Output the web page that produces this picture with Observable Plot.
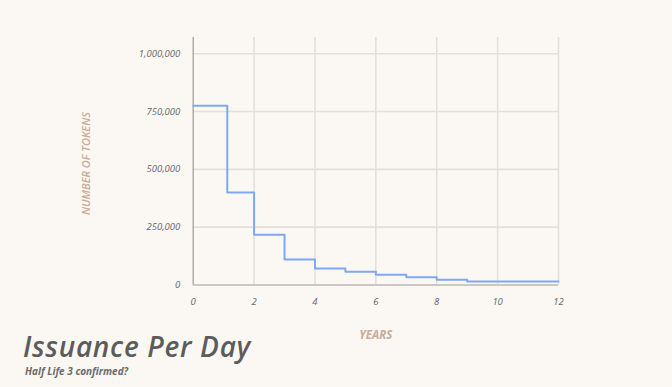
<!DOCTYPE html>
<html>
<head>
<meta charset="utf-8">
<script src="https://cdn.jsdelivr.net/npm/d3@7"></script>
<script src="https://cdn.jsdelivr.net/npm/@observablehq/plot@0.6"></script>
<style>
  html, body { margin: 0; padding: 0; background: #fbf8f3; }
  #wrap { width: 672px; height: 387px; overflow: hidden; background: #fbf8f3; }
  #title { font-family: "Open Sans", Lato, sans-serif; font-style: italic; font-weight: 600; font-size: 28px; color: #5c5c5c; margin: -12px 0 0 23px; line-height: 32px; letter-spacing: 0.7px; white-space: nowrap; }
  #subtitle { font-family: "Open Sans", Lato, sans-serif; font-style: italic; font-weight: 700; font-size: 10px; color: #6a6a6a; margin: 3px 0 0 25px; line-height: 12px; white-space: nowrap; }
</style>
</head>
<body>
<div id="wrap">
  <div id="chart"></div>
  <div id="title">Issuance Per Day</div>
  <div id="subtitle">Half Life 3 confirmed?</div>
</div>
<script>
// Step breakpoints (years) and issuance per day (tokens) for each step
const years = [0, 1.12, 2, 3, 4, 5, 6, 7, 8, 9, 12];
const tokensPerDay = [775000, 400000, 217500, 110000, 71500, 57000, 44000, 34000, 22500, 15000, 15000];
const xTicks = [0, 2, 4, 6, 8, 10, 12];
const yTicks = [0, 250000, 500000, 750000, 1000000];
const yLabel = "NUMBER OF TOKENS";
const xLabel = "YEARS";

const data = years.map((t, i) => ({year: t, tokens: tokensPerDay[i]}));

const tickStyle = {fontFamily: "'Open Sans', sans-serif", fontStyle: "italic", fontSize: 9.5, fill: "#666", letterSpacing: 0.5};

const chart = Plot.plot({
  width: 672,
  height: 342,
  marginLeft: 192.7,
  marginRight: 114,
  marginTop: 37,
  marginBottom: 57.5,
  style: {background: "#fbf8f3", fontFamily: "'Open Sans', sans-serif"},
  x: {domain: [0, 12], axis: null},
  y: {domain: [0, 1070000], axis: null},
  marks: [
    Plot.ruleY(yTicks.slice(1), {x1: 0, x2: 12, stroke: "#e2e0dc", strokeWidth: 1.6}),
    Plot.ruleX(xTicks.slice(1), {y1: 0, y2: 1070000, stroke: "#e2e0dc", strokeWidth: 1.6}),
    Plot.ruleX([0], {y1: 0, y2: 1070000, stroke: "#9a9a9a", strokeWidth: 1.2}),
    Plot.ruleY([0], {x1: 0, x2: 12, stroke: "#9a9a9a", strokeWidth: 1.2}),
    Plot.line(data, {x: "year", y: "tokens", curve: "step-after", stroke: "#7ea9f2", strokeWidth: 2}),
    Plot.text(yTicks, {x: 0, y: d => d, text: d => d3.format(",")(d), textAnchor: "end", dx: -13, ...tickStyle}),
    Plot.text(xTicks, {x: d => d, y: 0, text: d => String(d), dy: 16.5, ...tickStyle}),
    Plot.text([yLabel], {x: 0, y: 525000, dx: -107, rotate: -90, fill: "#c9ab98", fontSize: 11, fontWeight: 600, fontStyle: "italic", fontFamily: "'Open Sans', sans-serif", letterSpacing: 2.4}),
    Plot.text([xLabel], {x: 6, y: 0, dy: 50, fill: "#c9ab98", fontSize: 11.5, fontWeight: 700, fontStyle: "italic", fontFamily: "'Open Sans', sans-serif", letterSpacing: 0.3})
  ]
});
document.getElementById("chart").appendChild(chart);
</script>
</body>
</html>
